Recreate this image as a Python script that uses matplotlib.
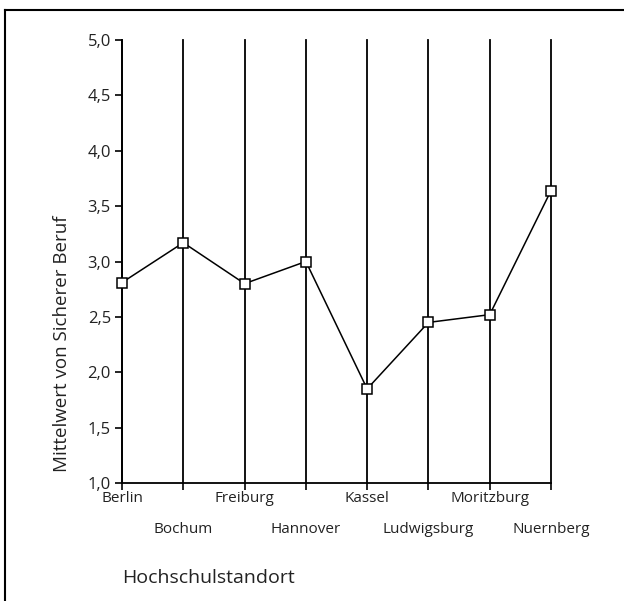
"""Mittelwert von Sicherer Beruf nach Hochschulstandort (SPSS-Stil)."""

import matplotlib
matplotlib.use('Agg')
import matplotlib.pyplot as plt
from matplotlib.lines import Line2D

standorte = ['Berlin', 'Bochum', 'Freiburg', 'Hannover', 'Kassel',
             'Ludwigsburg', 'Moritzburg', 'Nuernberg']
mittelwerte = [2.81, 3.17, 2.80, 3.00, 1.85, 2.45, 2.52, 3.64]
y_ticks = [1.0, 1.5, 2.0, 2.5, 3.0, 3.5, 4.0, 4.5, 5.0]

plt.rcParams['font.family'] = ['Open Sans', 'DejaVu Sans']

W, H = 624, 601
fig = plt.figure(figsize=(W / 100, H / 100), dpi=100)
ax = fig.add_axes([122 / W, 1 - 483 / H, (551 - 122) / W, (483 - 40) / H])

x = list(range(len(standorte)))
for xi in x:
    ax.axvline(xi, color='black', lw=1.3, zorder=1, clip_on=False)
ax.plot(x, mittelwerte, color='black', lw=1.1, marker='s', markersize=7.5,
        markerfacecolor='white', markeredgecolor='black', markeredgewidth=1.1,
        zorder=3, clip_on=False)

ax.set_xlim(0, len(standorte) - 1)
ax.set_ylim(1.0, 5.0)
ax.set_yticks(y_ticks)
ax.set_yticklabels([f'{v:.1f}'.replace('.', ',') for v in y_ticks])

# versetzte Beschriftung: gerade Indizes oben, ungerade eine Zeile tiefer
ax.set_xticks(x[0::2])
ax.set_xticklabels(standorte[0::2])
ax.set_xticks(x[1::2], minor=True)
ax.set_xticklabels(standorte[1::2], minor=True)

for side in ('top', 'right'):
    ax.spines[side].set_visible(False)
for side in ('left', 'bottom'):
    ax.spines[side].set_linewidth(1.3)
ax.tick_params(axis='both', which='both', colors='black', length=5,
               width=1.2, labelsize=11, labelcolor='#222222')
ax.tick_params(axis='x', which='major', pad=1)
ax.tick_params(axis='x', which='minor', pad=23)
ax.tick_params(axis='y', pad=3, labelsize=12)

fig.text(122 / W, 1 - 578 / H, 'Hochschulstandort', fontsize=14,
         ha='left', va='center', color='#222222')
fig.text(62 / W, 1 - 472 / H, 'Mittelwert von Sicherer Beruf', fontsize=13.5,
         rotation=90, ha='center', va='bottom', color='#222222')

# Rahmen oben und links
fig.add_artist(Line2D([5 / W, 1], [1 - 10 / H, 1 - 10 / H],
                      transform=fig.transFigure, color='black', lw=1.5))
fig.add_artist(Line2D([5 / W, 5 / W], [0, 1 - 10 / H],
                      transform=fig.transFigure, color='black', lw=1.5))

fig.savefig('out.png', dpi=100)
